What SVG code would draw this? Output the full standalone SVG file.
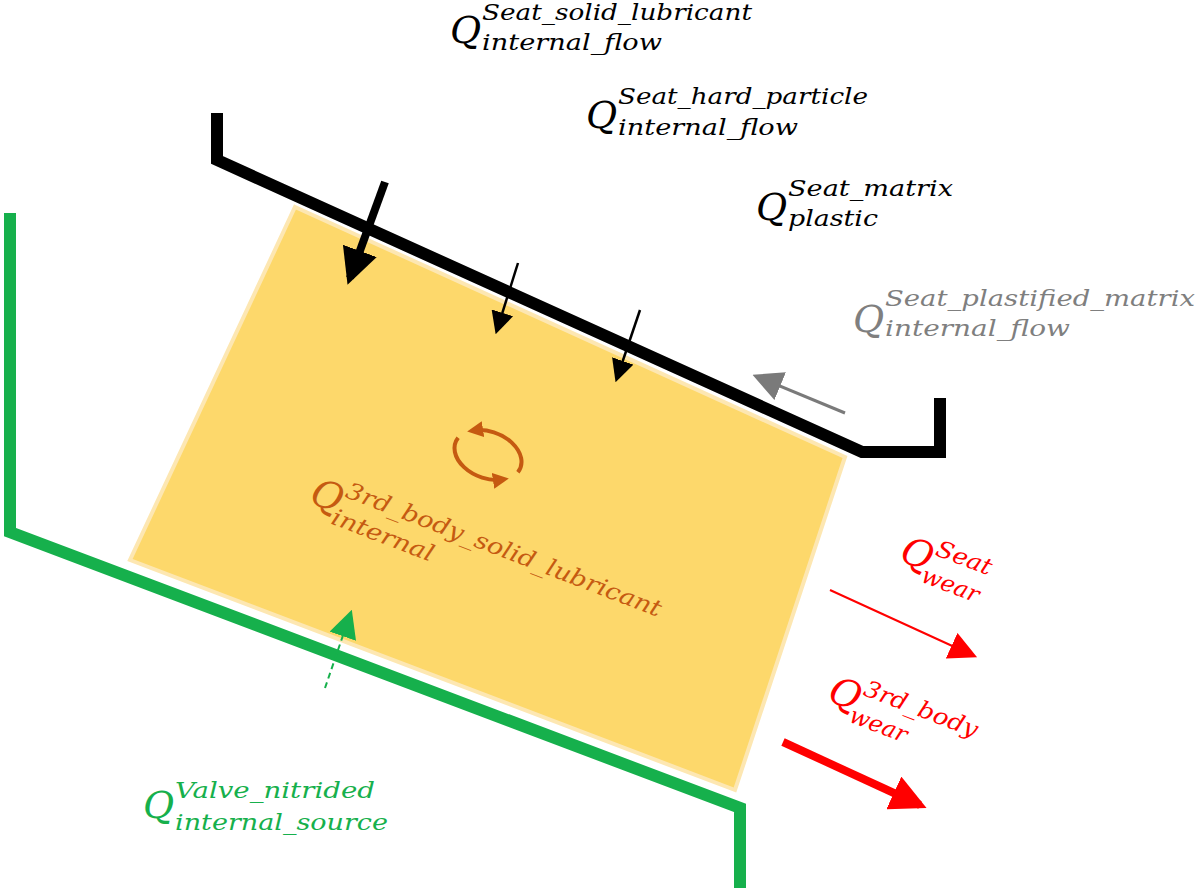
<svg xmlns="http://www.w3.org/2000/svg" width="1200" height="892" viewBox="0 0 1200 892">
<style>
text{font-family:"DejaVu Serif","Liberation Serif",serif;font-style:italic}
.q{font-size:38px}.s{font-size:23px}
</style>
<defs>
<marker id="ab" viewBox="0 0 10 10" refX="8" refY="5" markerWidth="4.5" markerHeight="4.5" orient="auto"><path d="M0,0L10,5L0,10z" fill="#000"/></marker>
<marker id="ab2" viewBox="0 0 10 10" refX="8" refY="5" markerWidth="9" markerHeight="9" orient="auto"><path d="M0,0L10,5L0,10z" fill="#000"/></marker>
<marker id="ag" viewBox="0 0 10 10" refX="8" refY="5" markerWidth="10" markerHeight="10" orient="auto"><path d="M0,0L10,5L0,10z" fill="#7a7a7a"/></marker>
<marker id="ar" viewBox="0 0 10 10" refX="8" refY="5" markerWidth="14" markerHeight="14" orient="auto"><path d="M0,0L10,5L0,10z" fill="#f00"/></marker>
<marker id="ar2" viewBox="0 0 10 10" refX="8" refY="5" markerWidth="4.5" markerHeight="4.5" orient="auto"><path d="M0,0L10,5L0,10z" fill="#f00"/></marker>
<marker id="agr" viewBox="0 0 10 10" refX="8" refY="5" markerWidth="14" markerHeight="14" orient="auto"><path d="M0,0L10,5L0,10z" fill="#16b04c"/></marker>
<marker id="ao" viewBox="0 0 10 10" refX="6" refY="5" markerWidth="4" markerHeight="4" orient="auto"><path d="M0,0L10,5L0,10z" fill="#c55a11"/></marker>
</defs>
<g id="third-body"><polygon points="295,207 845,457 735,790 130,560" fill="#fdd86b" stroke="#fde7b2" stroke-width="4"/></g>
<g id="seat"><polyline points="217,113 217,160 862,452 940,452 940,398" fill="none" stroke="#000" stroke-width="12"/></g>
<g id="valve"><polyline points="10,213 10,532 740,808 740,888" fill="none" stroke="#16b04c" stroke-width="12"/></g>
<g id="cycle" transform="translate(488,455) rotate(20)" fill="none" stroke="#c55a11" stroke-width="4">
<path d="M-34,-6 A35,24 0 0 0 22,18" marker-end="url(#ao)"/>
<path d="M34,6 A35,24 0 0 0 -22,-18" marker-end="url(#ao)"/>
</g>
<g id="connectors" fill="none">
<line x1="385" y1="182" x2="350" y2="278" stroke="#000" stroke-width="8" marker-end="url(#ab)"/>
<line x1="518" y1="263" x2="497" y2="330" stroke="#000" stroke-width="2.5" marker-end="url(#ab2)"/>
<line x1="640" y1="310" x2="617" y2="378" stroke="#000" stroke-width="2.5" marker-end="url(#ab2)"/>
<line x1="845" y1="413" x2="758" y2="377" stroke="#7a7a7a" stroke-width="3" marker-end="url(#ag)"/>
<line x1="830" y1="590" x2="972" y2="655" stroke="#f00" stroke-width="2" marker-end="url(#ar)"/>
<line x1="783" y1="742" x2="920" y2="805" stroke="#f00" stroke-width="8" marker-end="url(#ar2)"/>
<line x1="325" y1="688" x2="350" y2="615" stroke="#16b04c" stroke-width="2" stroke-dasharray="6,4" marker-end="url(#agr)"/>
</g>
<g id="labels">
<g><text class="q" x="450" y="43">Q</text><text class="s" x="482" y="20" textLength="270" lengthAdjust="spacingAndGlyphs">Seat_solid_lubricant</text><text class="s" x="482" y="50" textLength="180" lengthAdjust="spacingAndGlyphs">internal_flow</text></g>
<g><text class="q" x="586" y="128">Q</text><text class="s" x="618" y="104" textLength="250" lengthAdjust="spacingAndGlyphs">Seat_hard_particle</text><text class="s" x="618" y="135" textLength="180" lengthAdjust="spacingAndGlyphs">internal_flow</text></g>
<g><text class="q" x="756" y="220">Q</text><text class="s" x="788" y="196" textLength="165" lengthAdjust="spacingAndGlyphs">Seat_matrix</text><text class="s" x="788" y="226" textLength="90" lengthAdjust="spacingAndGlyphs">plastic</text></g>
<g fill="#7f7f7f"><text class="q" x="853" y="332">Q</text><text class="s" x="885" y="306" textLength="310" lengthAdjust="spacingAndGlyphs">Seat_plastified_matrix</text><text class="s" x="885" y="336" textLength="185" lengthAdjust="spacingAndGlyphs">internal_flow</text></g>
<g fill="#16b04c"><text class="q" x="143" y="818">Q</text><text class="s" x="175" y="798" textLength="200" lengthAdjust="spacingAndGlyphs">Valve_nitrided</text><text class="s" x="175" y="830" textLength="213" lengthAdjust="spacingAndGlyphs">internal_source</text></g>
<g fill="#c55a11" transform="translate(308,502) rotate(21)"><text class="q" x="0" y="0">Q</text><text class="s" x="32" y="-18" textLength="336" lengthAdjust="spacingAndGlyphs">3rd_body_solid_lubricant</text><text class="s" x="28" y="12" textLength="108" lengthAdjust="spacingAndGlyphs">internal</text></g>
<g fill="#f00" transform="translate(898,560) rotate(21)"><text class="q" x="0" y="0">Q</text><text class="s" x="32" y="-18" textLength="58" lengthAdjust="spacingAndGlyphs">Seat</text><text class="s" x="28" y="12" textLength="60" lengthAdjust="spacingAndGlyphs">wear</text></g>
<g fill="#f00" transform="translate(826,700) rotate(21)"><text class="q" x="0" y="0">Q</text><text class="s" x="32" y="-18" textLength="120" lengthAdjust="spacingAndGlyphs">3rd_body</text><text class="s" x="28" y="12" textLength="60" lengthAdjust="spacingAndGlyphs">wear</text></g>
</g>
</svg>
